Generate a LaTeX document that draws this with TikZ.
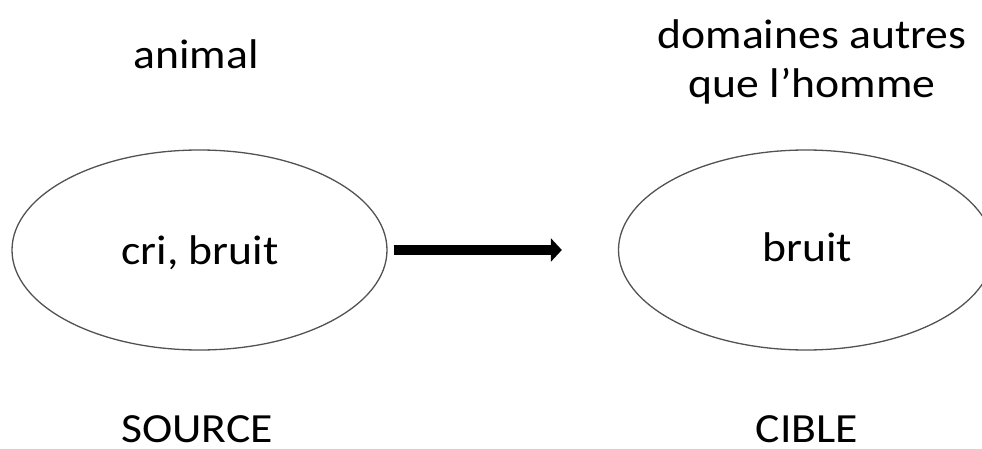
\documentclass[tikz,border=0pt]{standalone}
\usepackage{fontspec}
\setmainfont{Carlito}[FakeStretch=1.1]
\usetikzlibrary{shapes.geometric,arrows.meta}
\tikzset{
  domainoval/.style={draw=black!68, line width=1.3pt, ellipse, minimum width=375pt, minimum height=200pt, inner sep=0pt},
  lbl/.style={anchor=base, inner sep=0pt, font=\fontsize{41.5}{49}\selectfont},
  maparrow/.style={line width=10.7pt, -{Triangle[length=11pt,width=23pt]}}
}
\begin{document}
\begin{tikzpicture}[x=1pt,y=-1pt]
\useasboundingbox (0,0) rectangle (982,449);
\begin{scope}
\clip (0,0) rectangle (982,449);
\node[domainoval] (srcE) at (199.5,250) {};
\node[domainoval] (tgtE) at (806,250) {};
\end{scope}
\node[lbl] (srcTxt) at (200,264) {cri, bruit};
\node[lbl] (tgtTxt) at (807,261) {bruit};
\node[lbl] (animal) at (196,69) {animal};
\node[lbl, align=center] (domaines) at (812,98) {domaines autres\\que l’homme};
\node[lbl] (source) at (197,442) {SOURCE};
\node[lbl] (cible) at (807,442) {CIBLE};
\draw[maparrow, shorten <=6pt, shorten >=56pt] (srcE.east) -- (tgtE.west);
\end{tikzpicture}
\end{document}
